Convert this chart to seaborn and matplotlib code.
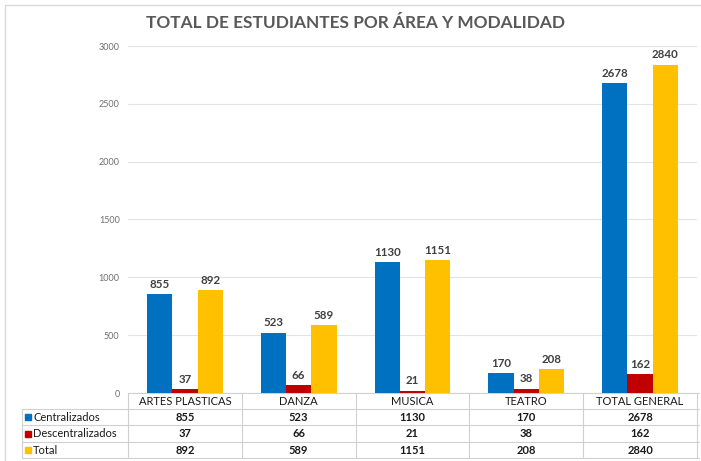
import matplotlib
matplotlib.use("Agg")
import matplotlib.pyplot as plt
import matplotlib.transforms as mtransforms
from matplotlib.patches import Rectangle
from matplotlib.lines import Line2D
import seaborn as sns
import pandas as pd

categories = ["ARTES PLASTICAS", "DANZA", "MUSICA", "TEATRO", "TOTAL GENERAL"]
centralizados = [855, 523, 1130, 170, 2678]
descentralizados = [37, 66, 21, 38, 162]
total = [892, 589, 1151, 208, 2840]
series_names = ["Centralizados", "Descentralizados", "Total"]
series_values = [centralizados, descentralizados, total]
colors = ["#0070C0", "#C00000", "#FFC000"]
yticks = [0, 500, 1000, 1500, 2000, 2500, 3000]

rows = []
for name, vals in zip(series_names, series_values):
    for c, v in zip(categories, vals):
        rows.append({"cat": c, "serie": name, "val": v})
df = pd.DataFrame(rows)

sns.set_theme(style="white")
plt.rcParams["font.family"] = ["Lato", "DejaVu Sans"]

W, H = 701, 461
fig = plt.figure(figsize=(W / 100, H / 100), dpi=100)
fig.patch.set_facecolor("white")

# overlay in pixel coords (origin top-left)
ov = fig.add_axes([0, 0, 1, 1], zorder=-1)
ov.set_xlim(0, W)
ov.set_ylim(H, 0)
ov.axis("off")

x0, x1 = 128, 697
y0, y1 = 393, 46
ax = fig.add_axes([x0 / W, (H - y0) / H, (x1 - x0) / W, (y0 - y1) / H])
sns.barplot(data=df, x="cat", y="val", hue="serie", order=categories,
            hue_order=series_names, palette=colors, width=0.665, gap=0,
            saturation=1, ax=ax, legend=False, edgecolor="none", linewidth=0)
ax.set_xlim(-0.5, len(categories) - 0.5)
ax.set_ylim(0, 3000)
ax.set_yticks(yticks)
ax.set_yticklabels([str(t) for t in yticks], fontsize=6.5, color="#707070")
ax.tick_params(axis="y", length=0, pad=6)
ax.set_xticks([])
ax.set_xlabel("")
ax.set_ylabel("")
ax.grid(axis="y", color="#e3e3e3", linewidth=0.8)
ax.set_axisbelow(True)
for s in ax.spines.values():
    s.set_visible(False)
ax.patch.set_alpha(0)
for cont in ax.containers:
    ax.bar_label(cont, fmt="%d", padding=3, fontsize=8.3, fontweight="bold",
                 color="#404040")

fig.text(356 / W, 1 - 23 / H, "TOTAL DE ESTUDIANTES POR ÁREA Y MODALIDAD",
         ha="center", va="center", fontsize=12.4, fontweight="bold",
         color="#595959")

# chart frame (top/left)
lc = "#d9d9d9"
ov.add_line(Line2D([5, W], [5, 5], color=lc, lw=1))
ov.add_line(Line2D([5, 5], [5, H], color=lc, lw=1))

# data table
bt = mtransforms.blended_transform_factory(ax.transData, ov.transData)
tl = "#d0d0d0"
row_lines = [393, 409, 425, 442, 458]
left = 22
n = len(categories)
bounds = [i - 0.5 for i in range(n + 1)]
for i, yl in enumerate(row_lines):
    if i == 0:
        ov.add_line(Line2D([x0, 699], [yl, yl], color=tl, lw=0.8))
    else:
        ov.add_line(Line2D([left, 699], [yl, yl], color=tl, lw=0.8))
for b in bounds:
    ov.add_line(Line2D([b, b], [393, 458], color=tl, lw=0.8, transform=bt))
ov.add_line(Line2D([left, left], [409, 458], color=tl, lw=0.8))

tc = "#1a1a1a"
for i, c in enumerate(categories):
    ov.text(i, 401, c, transform=bt, ha="center", va="center", fontsize=8,
            color=tc)
for r, (name, vals, col) in enumerate(zip(series_names, series_values, colors)):
    yc = (row_lines[r + 1] + row_lines[r + 2]) / 2
    ov.add_patch(Rectangle((25, yc - 3), 6, 6, color=col))
    ov.text(33, yc, name, ha="left", va="center", fontsize=8, color=tc)
    for i, v in enumerate(vals):
        ov.text(i, yc, str(v), transform=bt, ha="center", va="center",
                fontsize=8, fontweight="bold", color=tc)

fig.savefig("out.png", dpi=100, facecolor="white")
